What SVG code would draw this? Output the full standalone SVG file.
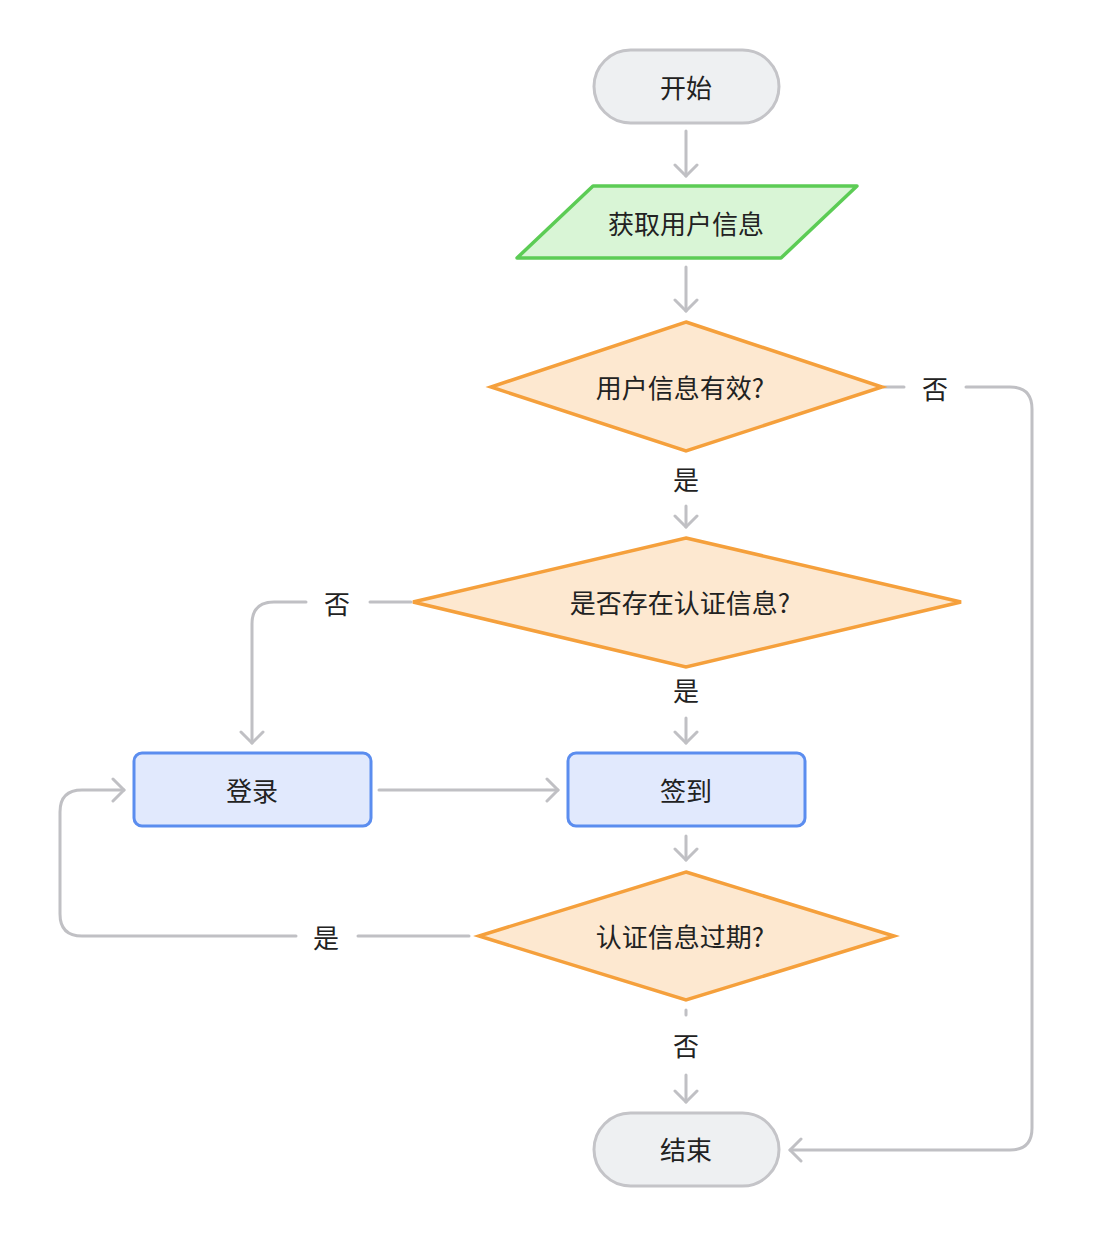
<svg xmlns="http://www.w3.org/2000/svg" width="1096" height="1236" viewBox="0 0 1096 1236">
<style>
text{font-family:"Noto Sans CJK SC","Noto Sans",sans-serif;font-size:26px;fill:#222;text-anchor:middle;dominant-baseline:central}
.c{fill:none;stroke:#c0c0c4;stroke-width:3;stroke-linecap:round;stroke-linejoin:round}
.term{fill:#eef0f2;stroke:#c4c4c8;stroke-width:3}
.dec{fill:#fde8d0;stroke:#f5a03c;stroke-width:3.5}
.proc{fill:#e1e9fd;stroke:#5b8def;stroke-width:3}
</style>
<defs>
<marker id="a" markerWidth="16" markerHeight="26" refX="13" refY="13" orient="auto" markerUnits="userSpaceOnUse">
<path d="M2,2 L13,13 L2,24" fill="none" stroke="#c0c0c4" stroke-width="3" stroke-linecap="round" stroke-linejoin="round"/>
</marker>
</defs>
<rect width="1096" height="1236" fill="#fff"/>
<g id="connectors">
<path class="c" d="M686,131 V176" marker-end="url(#a)"/>
<path class="c" d="M686,267 V311" marker-end="url(#a)"/>
<path class="c" d="M884,387 H904"/>
<path class="c" d="M966,387 H1010 Q1032,387 1032,409 V1128 Q1032,1150 1010,1150 H790" marker-end="url(#a)"/>
<path class="c" d="M686,506 V527" marker-end="url(#a)"/>
<path class="c" d="M411,602 H370"/>
<path class="c" d="M306,602 H274 Q252,602 252,624 V743" marker-end="url(#a)"/>
<path class="c" d="M686,718 V743" marker-end="url(#a)"/>
<path class="c" d="M379,790 H558" marker-end="url(#a)"/>
<path class="c" d="M686,836 V860" marker-end="url(#a)"/>
<path class="c" d="M469,936 H358"/>
<path class="c" d="M296,936 H82 Q60,936 60,914 V812 Q60,790 82,790 H124" marker-end="url(#a)"/>
<path class="c" d="M686,1010 V1015"/>
<path class="c" d="M686,1075 V1102" marker-end="url(#a)"/>
</g>
<g id="start"><rect class="term" x="594" y="50" width="185" height="73" rx="36.5"/><text x="686" y="86">开始</text></g>
<g id="input"><polygon points="517,258 593,186 857,186 781,258" fill="#d9f5d6" stroke="#5ccc55" stroke-width="3.5" stroke-linejoin="round"/><text x="686" y="222">获取用户信息</text></g>
<g id="d1"><polygon class="dec" points="686,322 882,387 686,451 491,387"/><text x="680" y="386">用户信息有效?</text></g>
<g id="d2"><polygon class="dec" points="686,538 961,602 686,667 413,602"/><text x="680" y="601">是否存在认证信息?</text></g>
<g id="login"><rect class="proc" x="134" y="753" width="237" height="73" rx="8"/><text x="252" y="789">登录</text></g>
<g id="sign"><rect class="proc" x="568" y="753" width="237" height="73" rx="8"/><text x="686" y="789">签到</text></g>
<g id="d3"><polygon class="dec" points="686,872 894,936 686,1000 479,936"/><text x="680" y="935">认证信息过期?</text></g>
<g id="end"><rect class="term" x="594" y="1113" width="185" height="73" rx="36.5"/><text x="686" y="1148">结束</text></g>
<g id="labels">
<text x="935" y="387">否</text>
<text x="686" y="478">是</text>
<text x="337" y="602">否</text>
<text x="686" y="689">是</text>
<text x="326" y="936">是</text>
<text x="686" y="1044">否</text>
</g>
</svg>
